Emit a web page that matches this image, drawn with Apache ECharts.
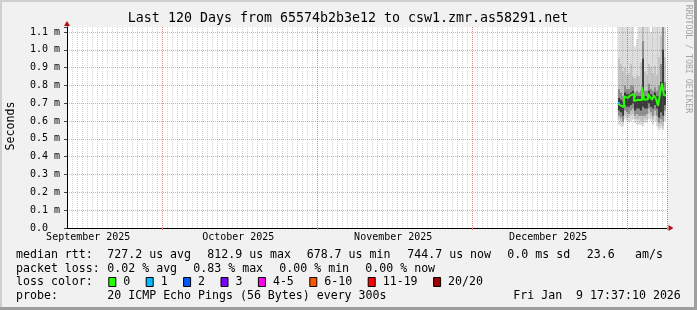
<!DOCTYPE html>
<html><head><meta charset="utf-8">
<script src="https://cdn.jsdelivr.net/npm/echarts@6/dist/echarts.min.js"></script>
<style>html,body{margin:0;padding:0;background:#f1f1f1;}#c{width:697px;height:310px;}</style>
</head><body><div id="c"></div>
<script>
// ---------- text ----------
const titleText = 'Last 120 Days from 65574b2b3e12 to csw1.zmr.as58291.net';
const yAxisName = 'Seconds';
const watermark = 'RRDTOOL / TOBI OETIKER';

// ---------- axes ----------
const spanDays = 120;                       // x axis: days from start of graph
const majorGridDays = [19, 50, 81, 112];    // red vertical grid lines
const monthLabels = ['September 2025', 'October 2025', 'November 2025', 'December 2025'];
const monthLabelDays = [4.25, 34.25, 65.25, 96.25];
const yMax = 1.128;                         // milliseconds
const yStep = 0.1;

// ---------- data (ms) ----------
const sampleDays = [110.2,110.6,111.0,111.4,111.8,112.2,112.6,113.0,113.4,113.8,114.2,114.6,
                    115.0,115.4,115.8,116.2,116.6,117.0,117.4,117.8,118.2,118.6,119.0,119.4];
const sampleEnd = 119.8;
const medianRtt = [0.702,0.690,0.679,0.738,0.730,0.730,0.743,0.753,0.713,0.720,0.720,0.718,
                   0.790,0.720,0.722,0.753,0.735,0.720,0.743,0.725,0.685,0.753,0.812,0.745];
const lostPings = [1,0,0,0,0,0,0,0,0,0,0,0, 0,0,0,0,0,0,0,0,0,0,0,0];
const smokeHigh1 = [1.13,1.13,1.13,1.13,1.13,1.13,1.13,1.13,1.02,1.06,1.13,1.13,1.13,1.13,1.13,1.13,1.10,1.13,1.13,1.13,1.13,1.13,1.13,1.13];
const smokeHigh2 = [0.95,0.92,0.88,0.90,0.86,0.87,0.92,0.85,0.84,0.86,0.85,0.93,1.13,0.88,0.86,0.92,0.90,0.87,0.91,0.86,0.96,1.08,1.13,0.96];
const smokeHigh3 = [0.78,0.76,0.74,0.80,0.78,0.78,0.80,0.80,0.76,0.77,0.76,0.77,1.05,0.77,0.77,0.81,0.78,0.77,0.79,0.77,0.80,0.92,1.13,0.82];
const smokeHigh4 = [0.73,0.72,0.71,0.76,0.75,0.75,0.76,0.77,0.73,0.74,0.74,0.74,0.95,0.74,0.74,0.77,0.75,0.74,0.76,0.74,0.74,0.82,1.00,0.77];
const smokeLow4  = [0.66,0.65,0.63,0.69,0.68,0.68,0.69,0.70,0.66,0.67,0.67,0.66,0.68,0.67,0.67,0.70,0.68,0.67,0.69,0.67,0.62,0.65,0.63,0.69];
const smokeLow3  = [0.63,0.62,0.60,0.66,0.65,0.64,0.66,0.67,0.63,0.64,0.63,0.63,0.63,0.63,0.64,0.67,0.65,0.63,0.66,0.63,0.59,0.61,0.60,0.66];
const smokeLow2  = [0.61,0.60,0.59,0.63,0.62,0.62,0.63,0.64,0.61,0.61,0.61,0.60,0.60,0.61,0.61,0.64,0.62,0.61,0.63,0.60,0.57,0.58,0.57,0.63];
const smokeLow1  = [0.58,0.57,0.57,0.61,0.60,0.59,0.60,0.61,0.59,0.58,0.58,0.58,0.57,0.59,0.59,0.61,0.60,0.58,0.60,0.57,0.55,0.56,0.55,0.60];

// ---------- legend ----------
const lossLabels = ['0', '1', '2', '3', '4-5', '6-10', '11-19', '20/20'];
const lossColors = ['#26ff00', '#00b8ff', '#0059ff', '#7e00ff', '#ff00ee', '#ff5500', '#ff0000', '#a10000'];
const lossUpper  = [0, 1, 2, 3, 5, 10, 19, 20];
const medianRow = ['median rtt:', '727.2 us avg', '812.9 us max', '678.7 us min', '744.7 us now', '0.0 ms sd', '23.6', 'am/s'];
const lossRow   = ['packet loss:', '0.02 % avg', '0.83 % max', '0.00 % min', '0.00 % now'];
const probeRow  = ['probe:', '20 ICMP Echo Pings (56 Bytes) every 300s', 'Fri Jan  9 17:37:10 2026'];
const lossColorTitle = 'loss color:';

// ---------- layout ----------
const MONO = '"DejaVu Sans Mono", "Liberation Mono", monospace';
const medianRowX = [16, 107.3, 207.3, 306.7, 407.3, 507.3, 586.7, 635];
const lossRowX = [16, 107.3, 193.3, 279.3, 365.3];
const probeRowX = [16, 107.3, 513.3];
const rowY = [254.5, 268.5, 282.3, 296.2];

// ---------- build ----------
const nextDay = i => (i + 1 < sampleDays.length ? sampleDays[i + 1] : sampleEnd);
const pts = arr => sampleDays.map((t, i) => [t, arr[i]]).concat([[sampleEnd, arr[arr.length - 1]]]);
const clipTo = (shape, cs) => echarts.graphic.clipRectByRect(shape, {x: cs.x, y: cs.y, width: cs.width, height: cs.height});

const bands = [
  {lo: smokeLow1, hi: smokeHigh1, color: '#dddddd'},
  {lo: smokeLow2, hi: smokeHigh2, color: '#c4c4c4'},
  {lo: smokeLow3, hi: smokeHigh3, color: '#8e8e8e'},
  {lo: smokeLow4, hi: smokeHigh4, color: '#3a3a3a'}
];
const series = [];
bands.forEach((b) => {
  series.push({
    type: 'custom', xAxisIndex: 0, yAxisIndex: 0, z: 2, silent: true, animation: false,
    encode: {x: [0, 1], y: [2, 3]},
    data: sampleDays.map((t, i) => [t, nextDay(i), b.lo[i], b.hi[i]]),
    renderItem: (params, api) => {
      const a = api.coord([api.value(0), api.value(3)]);
      const c = api.coord([api.value(1), api.value(2)]);
      const shape = clipTo({x: a[0], y: a[1], width: c[0] - a[0], height: c[1] - a[1]}, params.coordSys);
      return shape ? {type: 'rect', shape: shape, style: {fill: b.color}} : null;
    }
  });
});
series.push({type: 'line', step: 'end', symbol: 'none', silent: true, xAxisIndex: 0, yAxisIndex: 0,
  z: 5, animation: false, lineStyle: {width: 2, color: lossColors[0]}, itemStyle: {color: lossColors[0]},
  data: pts(medianRtt)});
const lossIndex = n => lossUpper.findIndex(u => n <= u);
series.push({
  type: 'custom', xAxisIndex: 0, yAxisIndex: 0, z: 6, silent: true, animation: false,
  encode: {x: [0, 1], y: 2},
  data: sampleDays.map((t, i) => [t, nextDay(i), medianRtt[i], lostPings[i]]).filter(d => d[3] > 0),
  renderItem: (params, api) => {
    const a = api.coord([api.value(0), api.value(2)]);
    const c = api.coord([api.value(1), api.value(2)]);
    return {type: 'rect', shape: {x: a[0], y: a[1] - 1, width: c[0] - a[0], height: 2},
      style: {fill: lossColors[lossIndex(api.value(3))]}};
  }
});

// category axis for month grid & labels (half-day slots)
const slots = [];
for (let i = 0; i < spanDays * 2; i++) slots.push(String(i));
const majorSlots = majorGridDays.map(d => Math.round(d * 2));
const labelSlots = {};
monthLabelDays.forEach((d, i) => { labelSlots[Math.floor(d * 2)] = monthLabels[i]; });

const graphics = [];
graphics.push({type: 'rect', shape: {x: 0, y: 0, width: 697, height: 2}, style: {fill: '#cfcfcf'}});
graphics.push({type: 'rect', shape: {x: 0, y: 0, width: 2, height: 310}, style: {fill: '#cfcfcf'}});
graphics.push({type: 'rect', shape: {x: 694, y: 0, width: 3, height: 310}, style: {fill: '#9e9e9e'}});
graphics.push({type: 'rect', shape: {x: 0, y: 307, width: 697, height: 3}, style: {fill: '#9e9e9e'}});
const txt = (x, y, s, size, color, align, rot) => ({
  type: 'text', x: x, y: y, rotation: rot || 0, silent: true,
  style: {text: s, font: size + 'px ' + MONO, fill: color || '#000',
    align: align || 'left', verticalAlign: 'middle', textAlign: align || 'left', textVerticalAlign: 'middle'}
});
graphics.push(txt(348, 19, titleText, 13.3, '#000', 'center'));
graphics.push(txt(11, 126, yAxisName, 11.6, '#000', 'center', Math.PI / 2));
graphics.push(txt(688.5, 59, watermark, 8.2, '#a4a4a4', 'center', -Math.PI / 2));
medianRow.forEach((s, i) => graphics.push(txt(medianRowX[i], rowY[0], s, 11.6)));
lossRow.forEach((s, i) => graphics.push(txt(lossRowX[i], rowY[1], s, 11.6)));
probeRow.forEach((s, i) => graphics.push(txt(probeRowX[i], rowY[3], s, 11.6)));
graphics.push(txt(16, rowY[2], lossColorTitle, 11.6));
let bx = 108.3;
lossLabels.forEach((s, i) => {
  graphics.push({type: 'rect', silent: true, shape: {x: bx + 0.5, y: 277.5, width: 7, height: 9},
    style: {fill: lossColors[i], stroke: '#000', lineWidth: 1}});
  graphics.push(txt(bx + 15, rowY[2], s, 11.6));
  bx = bx + 15 + s.length * 7 + 15.4;
});

const yLabel = v => {
  if (Math.abs(v / yStep - Math.round(v / yStep)) > 1e-6) return '';
  return v === 0 ? '0.0  ' : v.toFixed(1) + ' m';
};

const option = {
  backgroundColor: '#f1f1f1',
  animation: false,
  grid: {left: 67, top: 27, width: 600, height: 201, show: true, backgroundColor: '#ffffff',
    borderWidth: 0, containLabel: false, outerBoundsMode: 'none'},
  xAxis: [
    {type: 'value', min: 0, max: spanDays, interval: 1, position: 'bottom', z: 3,
      axisLine: {show: true, onZero: false, symbol: ['none', 'triangle'], symbolSize: [6, 5], symbolOffset: [0, 4],
        lineStyle: {color: '#b01010', width: 1}},
      axisTick: {show: false}, axisLabel: {show: false},
      splitLine: {show: true, showMinLine: false, lineStyle: {color: 'rgba(128,128,128,0.33)', width: 1, type: [1, 1]}}},
    {type: 'category', data: slots, boundaryGap: true, position: 'bottom', z: 4,
      axisLine: {show: true, onZero: false, lineStyle: {color: '#000', width: 1}},
      axisTick: {show: true, length: 2, interval: idx => majorSlots.indexOf(idx) >= 0,
        lineStyle: {color: '#ff7f7f', width: 1}},
      axisLabel: {show: true, interval: 0, margin: 4, fontFamily: MONO, fontSize: 10, color: '#000',
        formatter: (v, idx) => labelSlots[idx] || ''},
      splitLine: {show: true, interval: idx => majorSlots.indexOf(idx) >= 0,
        lineStyle: {color: 'rgba(255,0,0,0.38)', width: 1, type: [1, 1]}}}
  ],
  yAxis: [
    {type: 'value', min: 0, max: yMax, interval: yStep, position: 'left', z: 3,
      axisLine: {show: true, onZero: false, symbol: ['none', 'triangle'], symbolSize: [6, 5], symbolOffset: [0, 3.5],
        lineStyle: {color: '#b01010', width: 1}},
      axisTick: {show: true, length: 3, lineStyle: {color: '#444'}},
      axisLabel: {margin: 7, fontFamily: MONO, fontSize: 10, color: '#000', formatter: yLabel},
      splitLine: {show: true, showMaxLine: false, lineStyle: {color: 'rgba(255,0,0,0.38)', width: 1, type: [1, 1]}}},
    {type: 'value', min: 0, max: yMax, interval: yStep, position: 'left', z: 4,
      axisLine: {show: true, onZero: false, lineStyle: {color: '#000', width: 1}},
      axisTick: {show: false}, axisLabel: {show: false}, splitLine: {show: false}}
  ],
  series: series,
  graphic: {elements: graphics}
};
const chart = echarts.init(document.getElementById('c'), null, {renderer: 'canvas'});
chart.setOption(option);
</script></body></html>
